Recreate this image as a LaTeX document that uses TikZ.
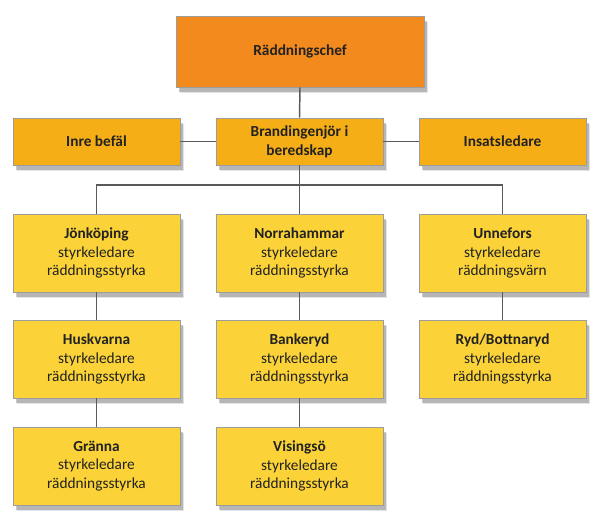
\documentclass[tikz,border=0pt]{standalone}
\usepackage{fontspec}
\setmainfont{Carlito}
\usetikzlibrary{shadows}

\definecolor{chefcolor}{HTML}{F28A1E}
\definecolor{ledcolor}{HTML}{F6AE17}
\definecolor{unitcolor}{HTML}{FBD338}
\definecolor{boxline}{HTML}{9C9C9C}
\definecolor{linkcolor}{HTML}{5A5A5A}
\definecolor{textcolor}{HTML}{222222}

\tikzset{
		box/.style  = {shape=rectangle, draw=boxline, line width=0.6pt,
				align=center, text=textcolor, inner sep=2pt,
				font=\fontsize{11.5}{14}\selectfont,
				drop shadow={shadow xshift=2pt, shadow yshift=-3.5pt,
					opacity=0.3, fill=black!70},
				drop shadow={shadow xshift=3pt, shadow yshift=-4.5pt,
					opacity=0.15, fill=black!70}},
		chef/.style = {box, fill=chefcolor, minimum width=186pt,
				minimum height=53.25pt, font=\fontsize{11.5}{14}\selectfont\bfseries},
		led/.style  = {box, fill=ledcolor, minimum width=125.25pt,
				minimum height=35.25pt, font=\fontsize{11.5}{14}\selectfont\bfseries},
		unit/.style = {box, fill=unitcolor, minimum width=125.25pt,
				minimum height=58.5pt},
		link/.style = {draw=linkcolor, line width=1.1pt}
	}

\begin{document}
\begin{tikzpicture}[x=0.75pt, y=-0.75pt]
				\useasboundingbox (0,0) rectangle (606,525);

				% ledning
				\node [chef] (chef)   at (300,51.5)  {Räddningschef};
				\node [led]  (inre)   at (96.5,141.5)  {Inre befäl};
				\node [led]  (brand)  at (299.5,141.5) {Brandingenjör i\\beredskap};
				\node [led]  (insats) at (502.5,141.5) {Insatsledare};

				% styrkor
				\node [unit] (jon)   at (96.5,253)  {\textbf{Jönköping}\\styrkeledare\\räddningsstyrka};
				\node [unit] (norra) at (299.5,253) {\textbf{Norrahammar}\\styrkeledare\\räddningsstyrka};
				\node [unit] (unne)  at (502.5,253) {\textbf{Unnefors}\\styrkeledare\\räddningsvärn};
				\node [unit] (husk)  at (96.5,359)  {\textbf{Huskvarna}\\styrkeledare\\räddningsstyrka};
				\node [unit] (bank)  at (299.5,359) {\textbf{Bankeryd}\\styrkeledare\\räddningsstyrka};
				\node [unit] (ryd)   at (502.5,359) {\textbf{Ryd/Bottnaryd}\\styrkeledare\\räddningsstyrka};
				\node [unit] (gran)  at (96.5,466)  {\textbf{Gränna}\\styrkeledare\\räddningsstyrka};
				\node [unit] (vis)   at (299.5,466) {\textbf{Visingsö}\\styrkeledare\\räddningsstyrka};

				\coordinate (bus) at (299.5,185);

				% linjer
				\draw [link] (chef.south) -- (brand.north);
				\draw [link] (inre.east) -- (brand.west);
				\draw [link] (brand.east) -- (insats.west);
				\draw [link] (brand.south) -- (norra.north);
				\draw [link] (jon.north) |- (bus) -| (unne.north);
				\draw [link] (jon.south) -- (husk.north);
				\draw [link] (husk.south) -- (gran.north);
				\draw [link] (norra.south) -- (bank.north);
				\draw [link] (bank.south) -- (vis.north);
				\draw [link] (unne.south) -- (ryd.north);
			\end{tikzpicture}
\end{document}
